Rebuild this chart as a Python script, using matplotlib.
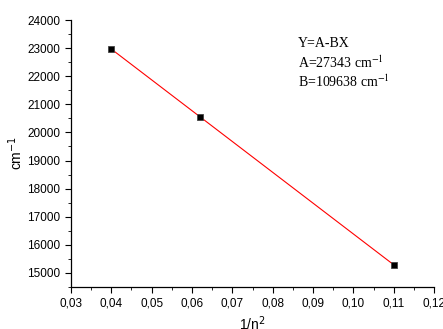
import numpy as np
from matplotlib import pyplot as plt
from matplotlib.ticker import MultipleLocator, FuncFormatter

# Daten
inv_n2 = [0.04, 0.062, 0.11]
wavenumber = [22980, 20540, 15290]
fit_text = ['Y=A-BX', 'A=27343 cm$^{-1}$', 'B=109638 cm$^{-1}$']

plt.rcParams['font.family'] = ['Liberation Sans', 'DejaVu Sans']
plt.rcParams['mathtext.fontset'] = 'custom'

fig = plt.figure(figsize=(4.43, 3.29), dpi=100)
ax = fig.add_axes([0.160, 0.128, 0.82, 0.811])

# lineare Anpassung
coef = np.polyfit(inv_n2, wavenumber, 1)
xs = np.array([min(inv_n2), max(inv_n2)])
ax.plot(xs, np.polyval(coef, xs), color='red', lw=0.8, zorder=2)
ax.plot(inv_n2, wavenumber, 's', color='black', markersize=5,
        markeredgecolor='#444444', markeredgewidth=0.6, zorder=3)

ax.set_xlim(0.03, 0.12)
ax.set_ylim(14500, 24000)
ax.xaxis.set_major_locator(MultipleLocator(0.01))
ax.xaxis.set_minor_locator(MultipleLocator(0.005))
ax.yaxis.set_major_locator(MultipleLocator(1000))
ax.yaxis.set_minor_locator(MultipleLocator(500))
ax.xaxis.set_major_formatter(FuncFormatter(lambda v, p: f'{v:.2f}'.replace('.', ',')))
ax.yaxis.set_major_formatter(FuncFormatter(lambda v, p: f'{v:.0f}'))

for s in ['top', 'right']:
    ax.spines[s].set_visible(False)
ax.spines['left'].set_linewidth(0.9)
ax.spines['bottom'].set_linewidth(0.9)
ax.tick_params(which='major', direction='out', length=4, width=0.8, labelsize=8.5)
ax.tick_params(which='minor', direction='out', length=2, width=0.6)

ax.set_xlabel('1/n$^2$', fontsize=10, labelpad=4)
ax.set_ylabel('cm$^{-1}$', fontsize=10, labelpad=2)

for i, t in enumerate(fit_text):
    ax.text(0.625, 0.914 - i * 0.073, t, transform=ax.transAxes, va='center', ha='left',
            fontsize=10, family='Liberation Serif', math_fontfamily='stix')

fig.savefig('out.png', dpi=100)
